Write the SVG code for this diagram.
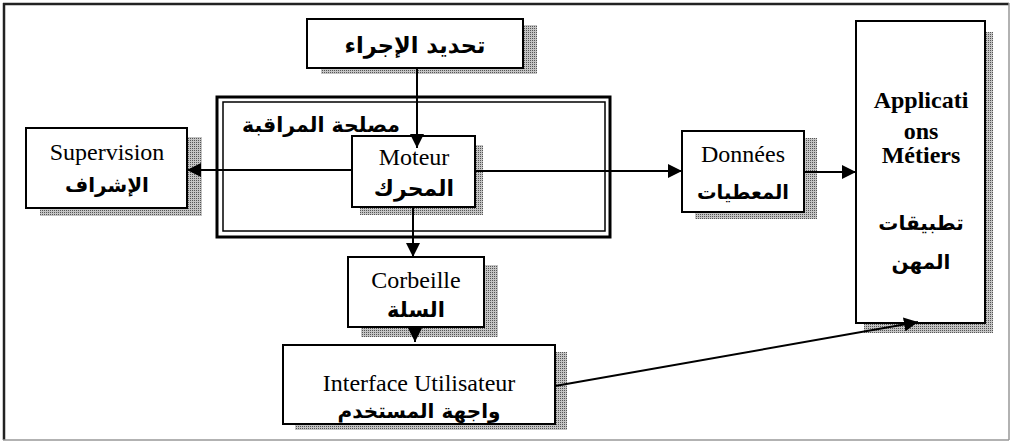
<svg xmlns="http://www.w3.org/2000/svg" width="1010" height="441" viewBox="0 0 1010 441">
<defs>
<pattern id="dots" width="2" height="2" patternUnits="userSpaceOnUse">
<rect width="2" height="2" fill="#c4c4c4"/>
<rect width="1" height="1" fill="#555"/>
</pattern>
<marker id="ah" viewBox="0 0 14 14" refX="14" refY="7" markerWidth="14" markerHeight="14" markerUnits="userSpaceOnUse" orient="auto">
<path d="M0,0 L14,7 L0,14 z" fill="#000"/>
</marker>
</defs>
<style>
.sh{fill:url(#dots);}
.bx{fill:#fff;stroke:#000;stroke-width:2;}
.fr{font-family:"Liberation Serif","Times New Roman",serif;font-size:24px;fill:#000;text-anchor:middle;}
.frb{font-family:"Liberation Serif","Times New Roman",serif;font-size:24px;font-weight:bold;fill:#000;text-anchor:middle;}
.ar{font-family:"DejaVu Sans",sans-serif;font-size:20px;font-weight:bold;fill:#000;text-anchor:middle;direction:rtl;}
.cn{fill:none;stroke:#000;stroke-width:2;marker-end:url(#ah);}
</style>
<rect width="1010" height="441" fill="#fff"/>
<g id="frame">
<line x1="4" y1="3" x2="4" y2="440" stroke="#222" stroke-width="2.5"/>
<line x1="3" y1="4" x2="1009" y2="4" stroke="#222" stroke-width="2.5"/>
<line x1="1009" y1="3" x2="1009" y2="440" stroke="#999" stroke-width="1.5"/>
<line x1="3" y1="440" x2="1009" y2="440" stroke="#999" stroke-width="1.5"/>
</g>
<g id="tahdid">
<rect class="sh" x="321" y="25" width="216" height="49"/>
<rect class="bx" x="307" y="19" width="216" height="49"/>
<text class="ar" x="415" y="53" style="font-size:22.5px">تحديد الإجراء</text>
</g>
<g id="supervision">
<rect class="sh" x="40" y="137" width="162" height="79"/>
<rect class="bx" x="26" y="128" width="161" height="80"/>
<text class="fr" x="107" y="160">Supervision</text>
<text class="ar" x="107" y="192">الإشراف</text>
</g>
<g id="controle">
<rect x="217" y="97" width="393" height="140" fill="#fff" stroke="#000" stroke-width="3"/>
<rect x="223" y="102" width="382" height="129" fill="none" stroke="#000" stroke-width="1.5"/>
<text class="ar" x="321" y="132" style="font-size:20.5px">مصلحة المراقبة</text>
</g>
<g id="moteur">
<rect class="sh" x="360" y="145" width="123" height="70"/>
<rect class="bx" x="352" y="136" width="123" height="71"/>
<text class="fr" x="414" y="165">Moteur</text>
<text class="ar" x="414" y="196" style="font-size:22px">المحرك</text>
</g>
<g id="donnees">
<rect class="sh" x="695" y="138" width="122" height="81"/>
<rect class="bx" x="682" y="131" width="122" height="81"/>
<text class="fr" x="743" y="162">Données</text>
<text class="ar" x="743" y="199" style="font-size:19.5px">المعطيات</text>
</g>
<g id="applications">
<rect class="sh" x="864" y="32" width="129" height="301"/>
<rect class="bx" x="856" y="21" width="129" height="302"/>
<text class="frb" x="921" y="108">Applicati</text>
<text class="frb" x="921" y="139">ons</text>
<text class="frb" x="921" y="163">Métiers</text>
<text class="ar" x="921" y="230">تطبيقات</text>
<text class="ar" x="921" y="269">المهن</text>
</g>
<g id="corbeille">
<rect class="sh" x="361" y="265" width="137" height="72"/>
<rect class="bx" x="348" y="257" width="136" height="70"/>
<text class="fr" x="416" y="288">Corbeille</text>
<text class="ar" x="416" y="317" style="font-size:21px">السلة</text>
</g>
<g id="interface">
<rect class="sh" x="295" y="352" width="272" height="78"/>
<rect class="bx" x="283" y="345" width="272" height="79"/>
<text class="fr" x="419" y="391">Interface Utilisateur</text>
<text class="ar" x="419" y="418">واجهة المستخدم</text>
</g>
<g id="connectors">
<line class="cn" x1="417" y1="68" x2="417" y2="148"/>
<line class="cn" x1="352" y1="170" x2="187" y2="170"/>
<line class="cn" x1="413" y1="207" x2="413" y2="257"/>
<line class="cn" x1="475" y1="171" x2="682" y2="171"/>
<line class="cn" x1="804" y1="172" x2="856" y2="172"/>
<line class="cn" x1="415" y1="327" x2="415" y2="342"/>
<line class="cn" x1="555" y1="386" x2="918" y2="322"/>
</g>
</svg>
